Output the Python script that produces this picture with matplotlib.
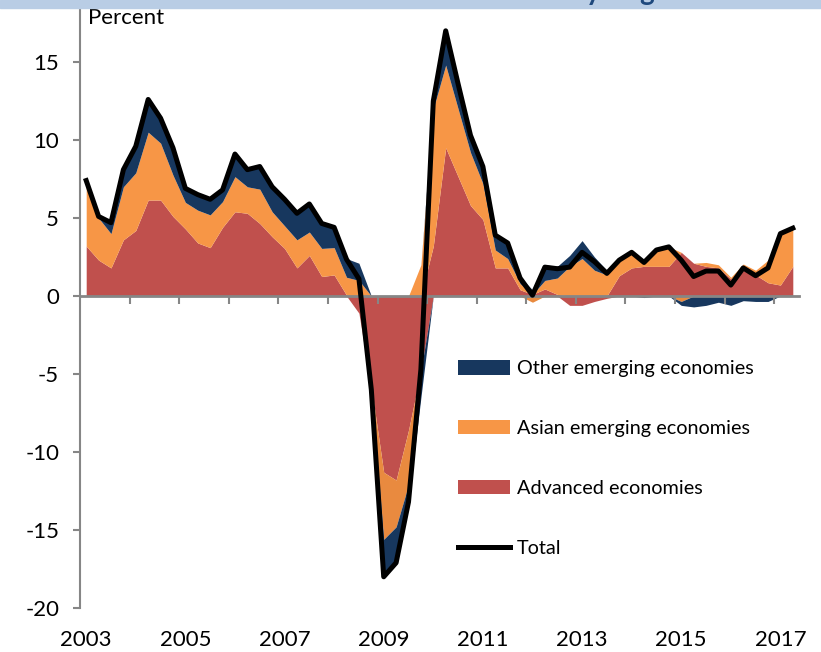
import numpy as np
import matplotlib
matplotlib.use('Agg')
import matplotlib.pyplot as plt
from matplotlib.patches import Patch, Rectangle
from matplotlib.lines import Line2D

plt.rcParams['font.family'] = ['Lato', 'DejaVu Sans']
plt.rcParams['axes.unicode_minus'] = False

# quarterly contributions, 2003Q1 .. 2017Q2 (percentage points)
advanced = [
    3.2, 2.3, 1.8, 3.6, 4.2, 6.15, 6.15, 5.1, 4.3, 3.4,
    3.1, 4.4, 5.4, 5.3, 4.65, 3.8, 3.05, 1.8, 2.6, 1.25,
    1.35, 0.05, -1.1, -5.8, -11.3, -11.8, -8.6, -4.8, 3.2, 9.5,
    7.65, 5.8, 4.9, 1.8, 1.8, 0.4, 0.1, 0.45, 0.1, -0.6,
    -0.6, -0.35, -0.15, 1.3, 1.8, 1.9, 1.9, 1.9, 2.8, 2.1,
    1.9, 1.8, 1.1, 1.65, 1.35, 0.85, 0.7, 1.9]
asian = [
    3.8, 2.7, 2.2, 3.4, 3.7, 4.35, 3.65, 2.65, 1.7, 2.1,
    2.1, 1.65, 2.25, 1.7, 2.2, 1.6, 1.45, 1.8, 1.5, 1.8,
    1.75, 1.15, 1.0, -0.1, -4.3, -3.0, -3.5, 2.0, 8.8, 5.3,
    4.35, 3.4, 2.3, 1.15, 0.6, 0.4, -0.4, 0.55, 1.05, 1.9,
    2.4, 1.65, 1.35, 1.0, 1.0, 0.25, 1.1, 1.25, -0.35, 0.0,
    0.25, 0.2, 0.1, 0.4, 0.3, 1.45, 3.4, 2.45]
other = [
    0.4, 0.1, 0.7, 1.1, 1.7, 2.1, 1.6, 1.75, 0.9, 1.0,
    1.0, 0.75, 1.45, 1.1, 1.45, 1.6, 1.7, 1.7, 1.8, 1.6,
    1.3, 1.2, 1.1, -0.1, -2.2, -2.3, -1.1, -1.7, 0.5, 2.2,
    1.6, 1.1, 1.1, 0.8, 1.0, 0.4, 0.3, 1.0, 0.75, 0.7,
    1.15, 0.85, 0.3, 0.0, 0.0, -0.1, 0.0, 0.0, -0.25, -0.7,
    -0.6, -0.4, -0.6, -0.3, -0.35, -0.35, 0.0, 0.0]
total = [
    7.4, 5.1, 4.7, 8.1, 9.6, 12.6, 11.4, 9.5, 6.9, 6.5,
    6.2, 6.8, 9.1, 8.1, 8.3, 7.0, 6.2, 5.3, 5.9, 4.65,
    4.4, 2.35, 1.1, -6.0, -18.0, -17.1, -13.2, -4.7, 12.5, 17.0,
    13.6, 10.3, 8.3, 3.9, 3.4, 1.15, 0.05, 1.85, 1.75, 1.85,
    2.8, 2.2, 1.45, 2.3, 2.8, 2.15, 2.95, 3.15, 2.3, 1.25,
    1.6, 1.6, 0.7, 1.8, 1.3, 1.8, 4.0, 4.35]
year_labels = ['2003', '2005', '2007', '2009', '2011', '2013', '2015', '2017']

RED, ORANGE, NAVY = '#C0504D', '#F79646', '#17375E'
GRAY = '#868686'

fig = plt.figure(figsize=(8.21, 6.52), dpi=100)
ax = fig.add_axes([80/821, 44/652, 719/821, 608/652])

x = np.arange(len(total))
pos_base = np.zeros(len(x))
neg_base = np.zeros(len(x))
for vals, c_pos, c_neg in [(advanced, RED, RED), (asian, ORANGE, '#E98A3F'), (other, NAVY, NAVY)]:
    v = np.array(vals)
    p = np.clip(v, 0, None)
    n = np.clip(v, None, 0)
    ax.fill_between(x, pos_base, pos_base + p, color=c_pos, lw=0)
    ax.fill_between(x, neg_base, neg_base + n, color=c_neg, lw=0)
    pos_base += p
    neg_base += n

ax.plot(x, total, color='black', lw=3.6, solid_joinstyle='round', zorder=5)

ax.set_xlim(-0.5, len(x) - 0.5)
ax.set_ylim(-20, 296/15.6)

for s in ['top', 'right']:
    ax.spines[s].set_visible(False)
ax.spines['left'].set_color(GRAY)
ax.spines['left'].set_linewidth(1.5)
ax.spines['bottom'].set_position(('data', 0))
ax.spines['bottom'].set_color(GRAY)
ax.spines['bottom'].set_linewidth(2)
ax.spines['bottom'].set_zorder(4)

yt = list(range(-20, 16, 5))
ax.set_yticks(yt)
ax.set_yticklabels([str(v) for v in yt])
ax.tick_params(axis='y', direction='out', length=5, width=1.5, color=GRAY, pad=10, labelsize=16)
ax.set_xticks(np.arange(3.5, len(x) - 1, 4))
ax.set_xticklabels([])
ax.tick_params(axis='x', direction='out', length=6, width=1.5, color=GRAY)

sec = ax.secondary_xaxis('bottom')
sec.set_xticks(np.arange(0, len(x), 8))
sec.set_xticklabels(year_labels)
sec.tick_params(length=0, pad=16, labelsize=16)
sec.spines['bottom'].set_visible(False)

fig.text(88/821, 1 - 18/652, 'Percent', fontsize=16, va='center', ha='left')

# cropped title band at the very top (the reference shows only its lower edge)
fig.add_artist(Rectangle((0, 1 - 8/652), 1, 8/652, transform=fig.transFigure,
                         color='#B9CDE5', zorder=10))
fig.text(0.48, 1.0, 'Contributions to World Trade Growth by Region', ha='center', va='baseline',
         fontsize=20, weight='bold', color='#1F497D', zorder=11)

handles = [Patch(facecolor=NAVY), Patch(facecolor=ORANGE), Patch(facecolor=RED),
           Line2D([], [], color='black', lw=3.6)]
labels = ['Other emerging economies', 'Asian emerging economies', 'Advanced economies', 'Total']
fig.legend(handles, labels, loc='upper left', bbox_to_anchor=(458/821, 1 - 360/652),
           frameon=False, fontsize=14.3, handlelength=2.6, handleheight=0.75,
           handletextpad=0.35, labelspacing=2.15, borderpad=0, borderaxespad=0)

fig.savefig('out.png', dpi=100)
